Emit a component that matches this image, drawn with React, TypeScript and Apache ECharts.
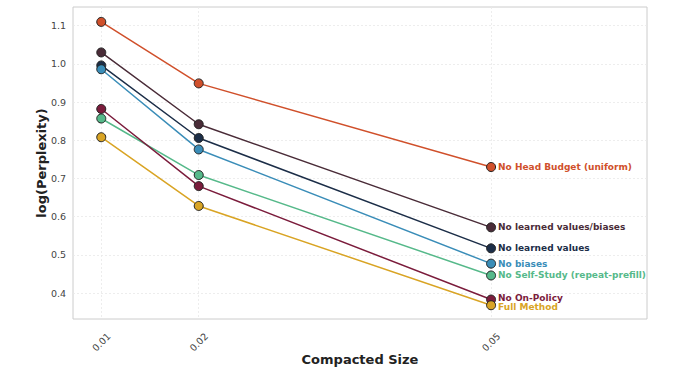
import React, { useEffect, useRef } from "react";
import * as echarts from "echarts";

const sizes = [0.01, 0.02, 0.05];
const seriesNames = [
  "No Head Budget (uniform)",
  "No learned values/biases",
  "No learned values",
  "No biases",
  "No Self-Study (repeat-prefill)",
  "No On-Policy",
  "Full Method",
];
const headBudget = [1.11, 0.949, 0.73];
const noValuesBiases = [1.03, 0.842, 0.572];
const noValues = [0.996, 0.806, 0.517];
const noBiases = [0.986, 0.776, 0.477];
const noSelfStudy = [0.857, 0.709, 0.446];
const noOnPolicy = [0.882, 0.68, 0.383];
const fullMethod = [0.808, 0.628, 0.368];
const colors = ["#D0502B", "#4A2C38", "#1C2E48", "#3A8DB8", "#56B98A", "#7B1C3C", "#D9A424"];
const yTicks = [0.4, 0.5, 0.6, 0.7, 0.8, 0.9, 1.0, 1.1];

const allValues = [headBudget, noValuesBiases, noValues, noBiases, noSelfStudy, noOnPolicy, fullMethod];
const labelShift = [0, 0, 0, 0, 0, -1.5, 2];

export default function App() {
  const ref = useRef<HTMLDivElement>(null);
  useEffect(() => {
    const chart = echarts.init(ref.current!, null, { renderer: "svg" });
    const font = "DejaVu Sans";
    chart.setOption({
      animation: false,
      textStyle: { fontFamily: font },
      grid: {
        left: 73,
        right: 31,
        top: 7,
        bottom: 49,
        outerBoundsMode: "none",
        containLabel: false,
        show: true,
        borderColor: "#cccccc",
        borderWidth: 1,
        backgroundColor: "#ffffff",
      },
      xAxis: {
        type: "value",
        min: 0.0071,
        max: 0.066,
        name: "Compacted Size",
        nameLocation: "middle",
        nameGap: 34,
        nameMoveOverlap: false,
        nameTextStyle: { fontFamily: font, fontWeight: "bold", fontSize: 13, color: "#222" },
        axisLine: { show: false },
        axisTick: { show: false, customValues: sizes },
        axisLabel: {
          customValues: sizes,
          rotate: 45,
          align: "center",
          verticalAlign: "middle",
          margin: 23,
          fontSize: 9.5,
          color: "#444",
          fontFamily: font,
          formatter: (v: number) => v.toFixed(2),
        },
        splitLine: { show: true, lineStyle: { color: "#e8e8e8", type: [2, 2], width: 0.8 } },
      },
      yAxis: {
        type: "value",
        min: 0.332,
        max: 1.149,
        name: "log(Perplexity)",
        nameLocation: "middle",
        nameGap: 25,
        nameMoveOverlap: false,
        nameTextStyle: { fontFamily: font, fontWeight: "bold", fontSize: 13, color: "#222" },
        axisLine: { show: false },
        axisTick: { show: false, customValues: yTicks },
        axisLabel: {
          customValues: yTicks,
          margin: 7,
          fontSize: 9.5,
          color: "#444",
          fontFamily: font,
          formatter: (v: number) => v.toFixed(1),
        },
        splitLine: { show: true, lineStyle: { color: "#e8e8e8", type: [2, 2], width: 0.8 } },
      },
      series: seriesNames.map((name, i) => ({
        name,
        type: "line",
        data: sizes.map((s, j) => [s, allValues[i][j]]),
        symbol: "circle",
        symbolSize: 9,
        lineStyle: { color: colors[i], width: 1.5 },
        itemStyle: { color: colors[i], borderColor: "#222", borderWidth: 1 },
        endLabel: {
          show: true,
          formatter: name,
          color: colors[i],
          fontWeight: "bold",
          fontSize: 9,
          fontFamily: font,
          distance: 7,
          offset: [0, labelShift[i]],
        },
      })),
    });
    return () => chart.dispose();
  }, []);
  return <div ref={ref} style={{ width: 678, height: 368, position: "absolute", left: 0, top: 0 }} />;
}
